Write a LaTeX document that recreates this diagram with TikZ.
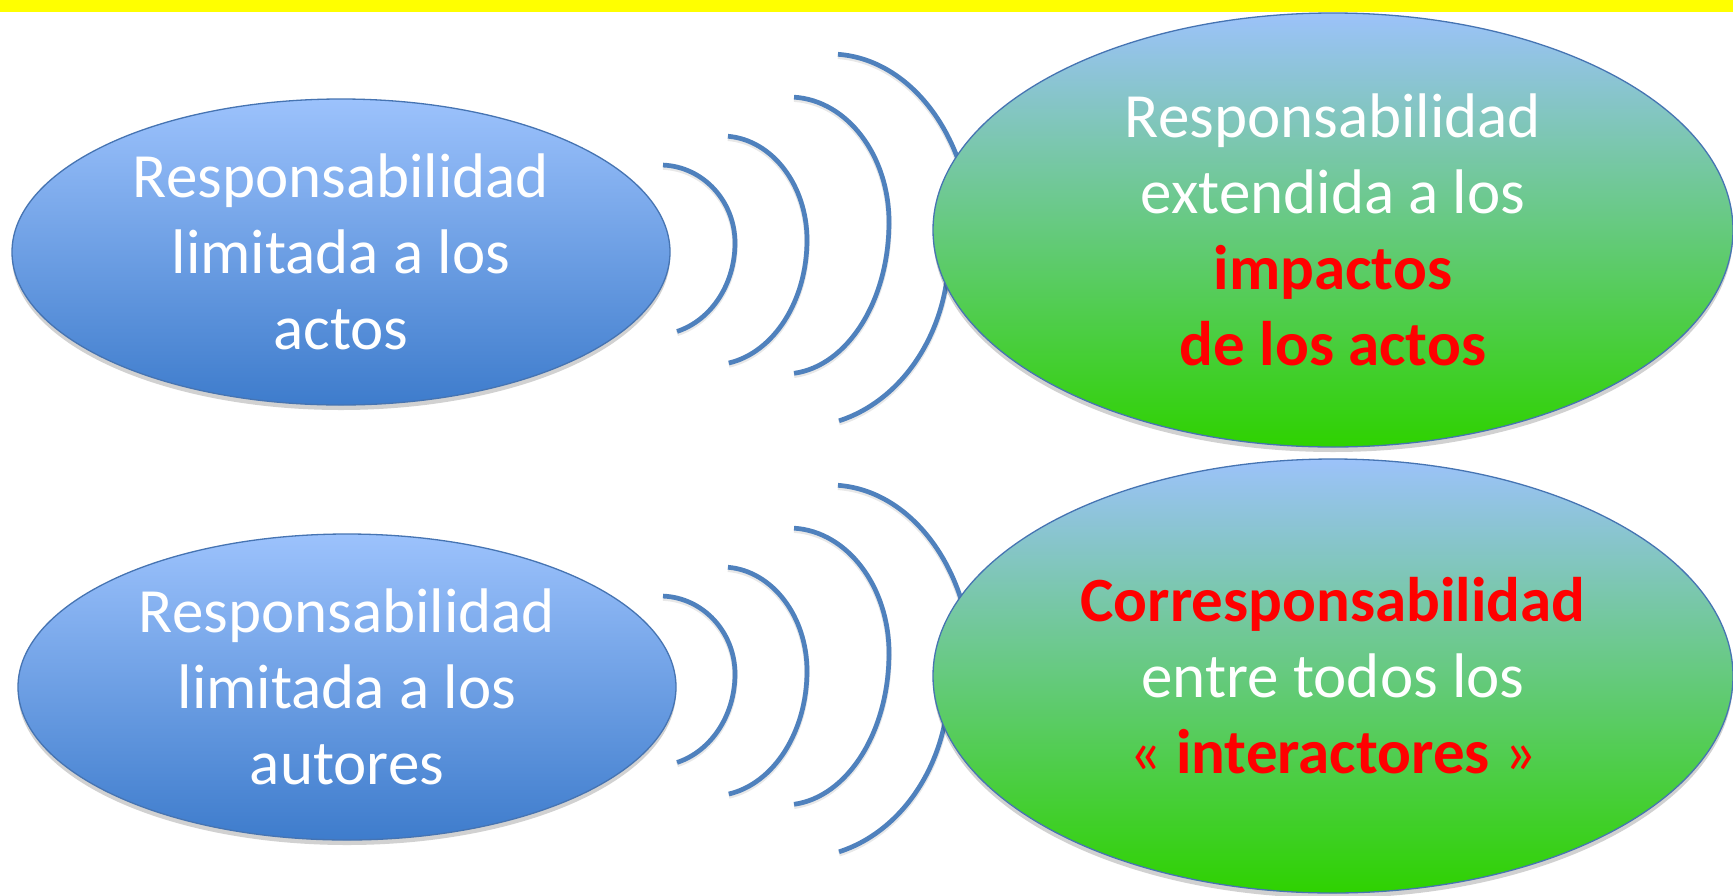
\documentclass[tikz,border=0pt]{standalone}
\usepackage{fontspec}
\setmainfont{Carlito}
\usetikzlibrary{shapes.geometric,shadows}
\definecolor{arcblue}{RGB}{79,129,189}
\definecolor{edgeblue}{RGB}{70,116,178}
\definecolor{bluetop}{RGB}{156,194,252}
\definecolor{bluebot}{RGB}{62,124,204}
\definecolor{greentop}{RGB}{156,194,250}
\definecolor{greenmid}{RGB}{104,201,128}
\definecolor{greenbot}{RGB}{46,210,0}
\definecolor{hired}{RGB}{255,0,0}
\definecolor{bandyellow}{RGB}{255,255,0}
\begin{document}
\begin{tikzpicture}[x=1pt,y=-1pt,
  bubble/.style={ellipse, draw=edgeblue, line width=1.3pt, inner sep=0pt,
    drop shadow={shadow xshift=0pt, shadow yshift=-5pt, fill=black, opacity=0.18}},
  bluebubble/.style={bubble, top color=bluetop, bottom color=bluebot,
    minimum width=658pt, minimum height=306pt},
  greenbubble/.style={bubble, top color=greentop, middle color=greenmid, bottom color=greenbot,
    minimum width=800pt, minimum height=434pt},
  bubbletext/.style={align=center, font=\fontsize{63}{76}\selectfont, text=white, inner sep=0pt},
  wave/.style={draw=arcblue, line width=4.7pt,
    preaction={draw=black, draw opacity=0.09, line width=5.5pt, transform canvas={yshift=-2pt}}}]
\useasboundingbox (0,0) rectangle (1733,895);
\fill[white] (0,0) rectangle (1733,895);
\fill[bandyellow] (0,0) rectangle (1733,12);

% waves (drawn before the green bubbles, which cover them)
\foreach \dy in {0,431}{
  \begin{scope}[shift={(0,\dy)}]
    \draw[wave] (735,243) arc[start angle=0,end angle=-87.7,x radius=75,y radius=78]
                (735,243) arc[start angle=0,end angle=74,x radius=80,y radius=92];
    \draw[wave] (807,240) arc[start angle=0,end angle=-86,x radius=85,y radius=104]
                (807,240) arc[start angle=0,end angle=79.8,x radius=95,y radius=125];
    \draw[wave] (889,222) arc[start angle=0,end angle=-87.1,x radius=100,y radius=125]
                (889,222) arc[start angle=0,end angle=84.5,x radius=105,y radius=152];
    \draw[wave] (972,240) arc[start angle=0,end angle=-86.8,x radius=142,y radius=186]
                (949,250) arc[start angle=0,end angle=74.8,x radius=149,y radius=177];
  \end{scope}
}

\node[bluebubble] (b1) at (341,252) {};
\node[bluebubble] (b2) at (347,687) {};
\node[greenbubble] (g1) at (1333,230) {};
\node[greenbubble] (g2) at (1333,676) {};

\node[bubbletext] (t1) at (b1.center) {Responsabilidad\\limitada a los\\actos};
\node[bubbletext] (t2) at (b2.center) {Responsabilidad\\limitada a los\\autores};
\node[bubbletext] (t3) at (g1.center) {Responsabilidad\\extendida a los\\\textcolor{hired}{\bfseries impactos}\\\textcolor{hired}{\bfseries de los actos}};
\node[bubbletext] (t4) at (g2.center) {\textcolor{hired}{\bfseries Corresponsabilidad}\\entre todos los\\\textcolor{hired}{« \textbf{interactores} »}};
\end{tikzpicture}
\end{document}
